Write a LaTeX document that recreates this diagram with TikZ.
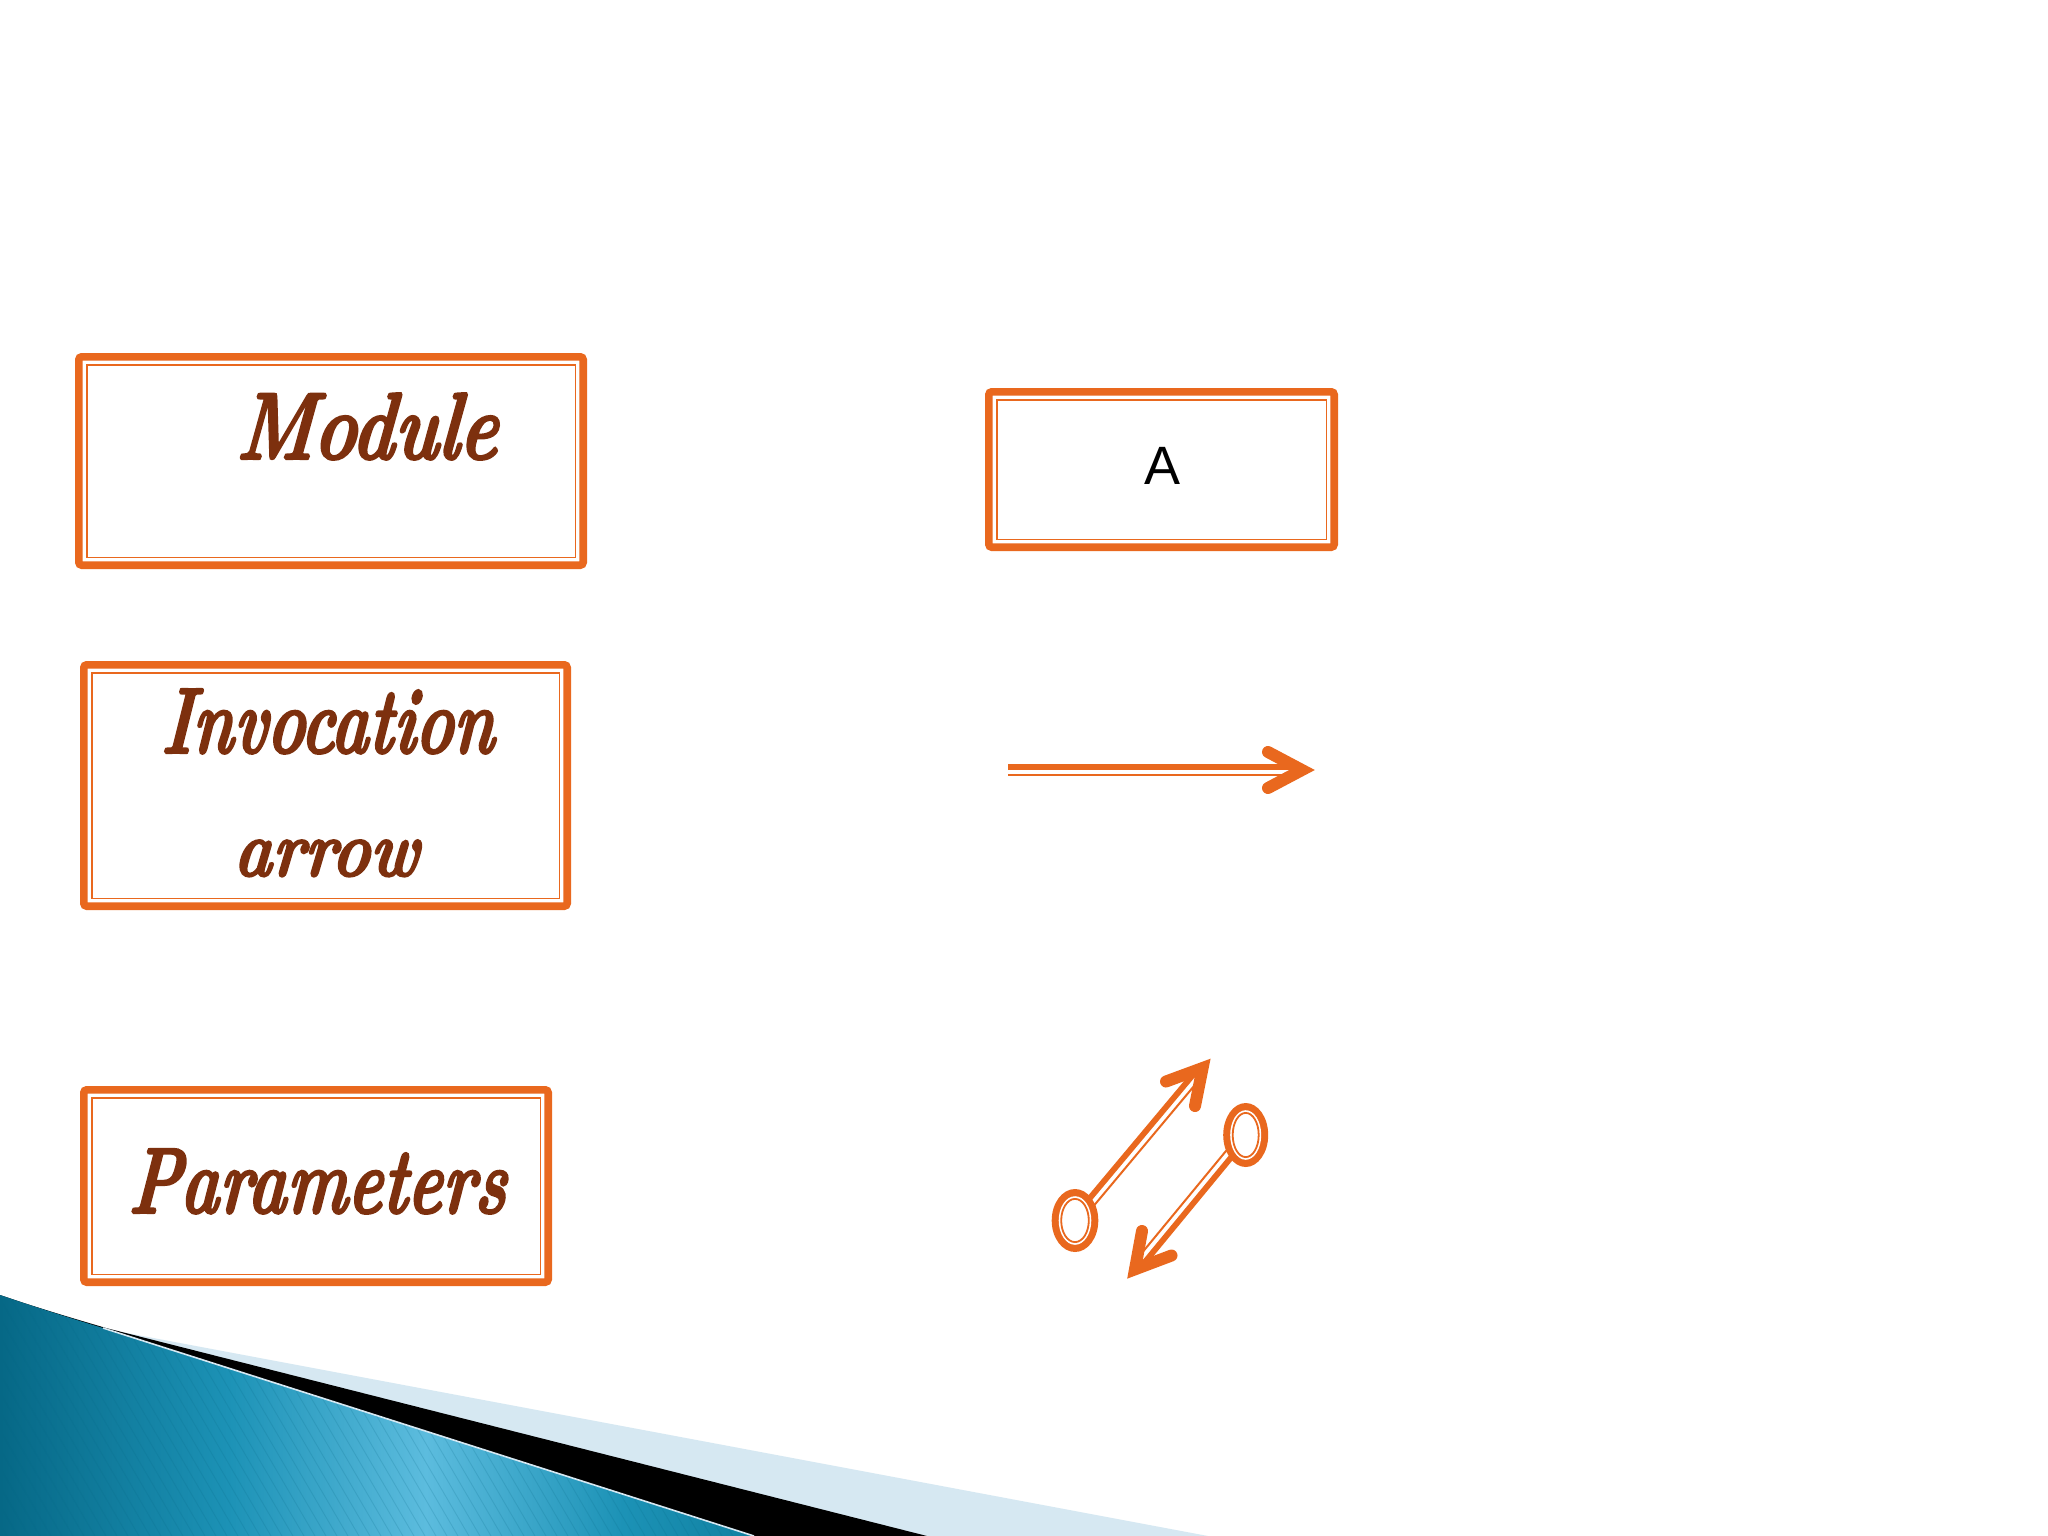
\documentclass[tikz,border=0pt]{standalone}
\usepackage{fontspec}
\newfontfamily\sansA{Liberation Sans}
\newfontfamily\brushfont{lmroman10-bolditalic.otf}[FakeBold=2.5,FakeSlant=0.12]
\usetikzlibrary{calc}
\definecolor{orng}{RGB}{233,104,30}
\definecolor{brn}{RGB}{125,48,14}
\definecolor{lblue}{RGB}{214,232,242}
\definecolor{tdark}{RGB}{6,104,134}
\definecolor{tmid}{RGB}{28,146,182}
\definecolor{tlight}{RGB}{92,188,222}
\definecolor{tend}{RGB}{16,128,160}
\pgfdeclarehorizontalshading{tealsh}{100bp}{color(0bp)=(tdark); color(25bp)=(tdark); color(40bp)=(tmid); color(53bp)=(tlight); color(66bp)=(tmid); color(75bp)=(tend); color(100bp)=(tend)}
\newcommand\brush[3]{\resizebox{#1}{#2}{\brushfont\fontsize{70}{80}\selectfont #3}}
\tikzset{
  box/.style={draw=orng, line width=7.6pt, rounded corners=3pt, inner sep=0pt, outer sep=0pt, fill=white},
  inbox/.style={draw=orng, line width=1.8pt},
  txt/.style={text=brn, inner sep=0pt, outer sep=0pt, anchor=base west},
  shaftthick/.style={draw=orng, line width=5.8pt},
  shaftthin/.style={draw=orng, line width=2pt},
  chev/.style={draw=orng, line width=12pt, line cap=round, line join=miter, miter limit=10},
}
\begin{document}
\begin{tikzpicture}[x=1pt,y=-1pt]
\useasboundingbox (0,0) rectangle (2048,1536);
\fill[white] (0,0) rectangle (2048,1536);

% bottom decoration
\fill[lblue] (0,1295) .. controls (40,1309) and (80,1321) .. (116,1331) -- (1208,1536) -- (0,1536) -- cycle;
\fill[black] (0,1295) .. controls (38,1308) and (72,1318) .. (106,1328) -- (927,1536) -- (0,1536) -- cycle;
\begin{scope}
\clip (0,1295) .. controls (35,1307) and (70,1318) .. (103,1328) -- (754,1536) -- (0,1536) -- cycle;
\shade[shading=tealsh] (0,1280) rectangle (760,1536);
\foreach \i in {-30,...,70} \draw[tdark, opacity=0.18, line width=0.9pt] (\i*11,1280) -- ++(150,256);
\end{scope}
\draw[lblue, line width=1.6pt] (103,1328) -- (754,1536);

% boxes
\node[box, minimum width=504.4pt, minimum height=208.4pt] (modbox) at (331,461) {};
\draw[inbox] ([shift={(7.8,7.8)}]modbox.north west) rectangle ([shift={(-7.8,-7.8)}]modbox.south east);
\node[box, minimum width=345.4pt, minimum height=155.4pt] (abox) at (1161.5,469.5) {};
\draw[inbox] ([shift={(7.8,7.8)}]abox.north west) rectangle ([shift={(-7.8,-7.8)}]abox.south east);
\node[box, minimum width=483.4pt, minimum height=241.4pt] (invbox) at (325.5,785.5) {};
\draw[inbox] ([shift={(7.8,7.8)}]invbox.north west) rectangle ([shift={(-7.8,-7.8)}]invbox.south east);
\node[box, minimum width=464.4pt, minimum height=192.4pt] (parbox) at (316,1186) {};
\draw[inbox] ([shift={(7.8,7.8)}]parbox.north west) rectangle ([shift={(-7.8,-7.8)}]parbox.south east);

% invocation arrow
\coordinate (h0a) at (1008,767.3);
\coordinate (h1a) at (1300,767.3);
\coordinate (h0b) at (1008,775);
\coordinate (h1b) at (1290,775);
\draw[shaftthick] (h0a) -- (h1a);
\draw[shaftthin] (h0b) -- (h1b);
\coordinate (hv) at (1302,770);
\coordinate (ha1) at (1268,752);
\coordinate (ha2) at (1268,788);
\draw[chev] (ha1) -- (hv) -- (ha2);

% parameter arrows: up
\coordinate (c1) at (1075,1220.5);
\coordinate (u0a) at (1072.7,1218.6);
\coordinate (u1a) at (1200.3,1066.1);
\coordinate (u0b) at (1078.8,1223.7);
\coordinate (u1b) at (1198.7,1080.4);
\draw[shaftthick] (u0a) -- (u1a);
\draw[shaftthin] (u0b) -- (u1b);
\coordinate (uv) at (1202.6,1068.0);
\coordinate (ua1) at (1166.0,1081.5);
\coordinate (ua2) at (1195.0,1106.0);
\draw[chev] (ua1) -- (uv) -- (ua2);
\fill[orng] (c1) ellipse [x radius=23.3, y radius=31.5];
\fill[white] (c1) ellipse [x radius=16.3, y radius=24.3];
\draw[orng, line width=1.8pt] (c1) ellipse [x radius=13.8, y radius=21.6];

% parameter arrows: down
\coordinate (c2) at (1245.7,1135);
\coordinate (d0a) at (1248.0,1136.9);
\coordinate (d1a) at (1137.3,1271.2);
\coordinate (d0b) at (1241.8,1131.8);
\coordinate (d1b) at (1138.7,1256.8);
\draw[shaftthick] (d0a) -- (d1a);
\draw[shaftthin] (d0b) -- (d1b);
\coordinate (dv) at (1135.0,1269.3);
\coordinate (da1) at (1142.0,1231.0);
\coordinate (da2) at (1171.5,1255.5);
\draw[chev] (da1) -- (dv) -- (da2);
\fill[orng] (c2) ellipse [x radius=22.5, y radius=32];
\fill[white] (c2) ellipse [x radius=15.5, y radius=24.8];
\draw[orng, line width=1.8pt] (c2) ellipse [x radius=13.0, y radius=22.1];

% texts
\node[font={\sansA\fontsize{54}{60}\selectfont}, anchor=base, inner sep=0pt] (atxt) at (1162.5,484) {A};
\node[txt] (modt) at (236,459) {\brush{260pt}{66pt}{Module}};
\node[txt] (invt) at (161,753) {\brush{332pt}{64pt}{Invocation}};
\node[txt] (arrt) at (233,876) {\brush{184pt}{36pt}{arrow}};
\node[txt] (part) at (128,1213) {\brush{377pt}{64pt}{Parameters}};
\end{tikzpicture}
\end{document}
